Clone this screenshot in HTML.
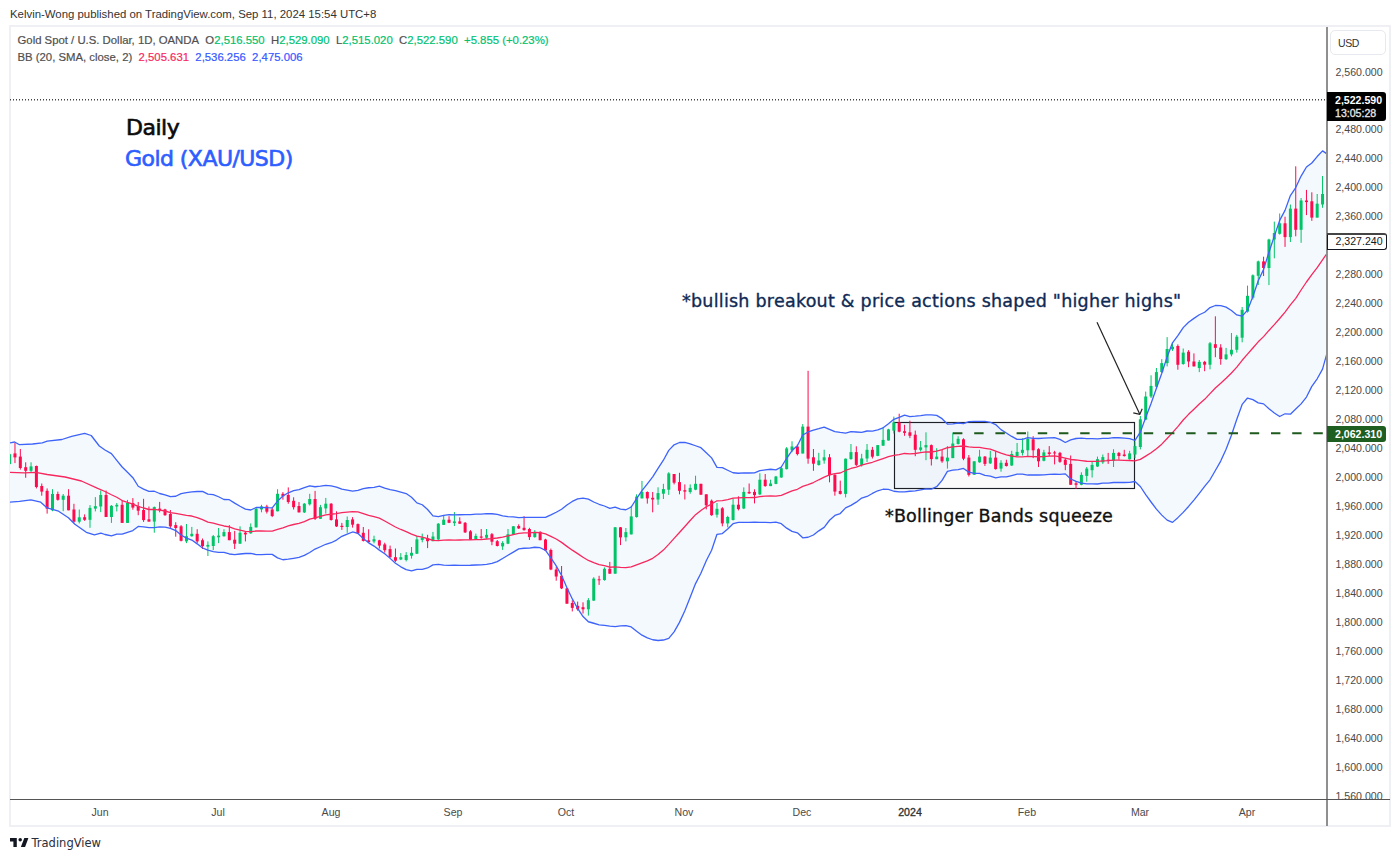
<!DOCTYPE html>
<html><head><meta charset="utf-8"><style>
*{margin:0;padding:0;box-sizing:border-box}
html,body{width:1400px;height:860px;overflow:hidden;background:#fff}
body{position:relative;font-family:"Liberation Sans",Arial,sans-serif;color:#131722}
.hdr{position:absolute;left:10px;top:8px;font-size:11.4px;color:#333;white-space:nowrap}
.frame{position:absolute;left:9px;top:25px;width:1382px;height:802px;border:2px solid #EEF0F4}
.lg{position:absolute;left:17.5px;font-size:11.35px;color:#505050;white-space:nowrap;-webkit-text-stroke:0.2px currentColor}
.lg .g{color:#00C270} .lg .r{color:#F7285E} .lg .b{color:#3558FF}
svg.chart{position:absolute;left:0;top:0}
.pl{position:absolute;left:1px;width:60px;text-align:center;font-size:10.6px;color:#4a4a4a;line-height:14px}
.tl{position:absolute;top:805px;width:60px;text-align:center;font-size:10.6px;color:#4a4a4a;line-height:14px}
.tl.b{color:#333;-webkit-text-stroke:0.35px #333}
.ann{position:absolute;white-space:nowrap;line-height:1;font-family:'DejaVu Sans',sans-serif;-webkit-text-stroke:0.35px currentColor}
.usd{position:absolute;left:1330px;top:30px;width:56px;height:25px;border:1px solid #E6E9EF;border-radius:5px;font-size:10.5px;letter-spacing:-0.4px;color:#333;padding:6px 0 0 7px}
.tag{position:absolute;left:1327px;width:59px;color:#fff;font-size:10.6px;font-weight:bold;text-align:left;padding-left:8px;border-radius:0 3px 3px 0;white-space:nowrap}
.logo{position:absolute;left:31.5px;top:836px;font-size:11.5px;font-family:'DejaVu Sans',sans-serif;color:#2a2e39}
</style></head><body>
<div class="hdr">Kelvin-Wong published on TradingView.com, Sep 11, 2024 15:54 UTC+8</div>
<div class="frame"></div>
<svg class="chart" width="1400" height="860" viewBox="0 0 1400 860">
<defs><clipPath id="cp"><rect x="10" y="27" width="1316.5" height="772"/></clipPath></defs>
<g clip-path="url(#cp)">
<polygon points="10,442.8 14.6,442 19.5,444.7 32.6,444 42.3,442.8 47.2,441.2 61.9,439.5 71.6,436.3 84.6,433.3 91.2,435.5 99.3,446 105,450 111.43,453.62 116.79,460.44 122.15,466.97 127.5,472.22 132.86,477.71 138.22,486.28 143.58,489.17 148.94,491.37 154.3,491.26 159.66,493.5 165.02,494.86 170.38,496.68 175.73,496.24 181.09,493.69 186.45,492.56 191.81,491.93 197.17,491.52 202.53,491.34 207.89,494.18 213.25,494.61 218.61,496.77 223.96,499.51 229.32,499.71 234.68,503.14 240.04,506.29 245.4,509.16 250.76,509.99 256.12,507.52 261.48,507.37 266.84,507.7 272.19,507.85 277.55,501.13 282.91,496.03 288.27,492.77 293.63,490.71 298.99,489.53 304.35,487.66 309.71,485.9 315.07,486.75 320.42,486.16 325.78,485.42 331.14,485.78 336.5,487.03 341.86,489.16 347.22,490.08 352.58,491.22 357.94,490.4 363.3,488.65 368.65,487.75 374.01,487.3 379.37,486.2 384.73,488.17 390.09,489.7 395.45,490.69 400.81,492.11 406.17,493.53 411.53,497.18 416.89,502.86 422.24,504.76 427.6,509.48 432.96,515.87 438.32,516.62 443.68,515.34 449.04,514.62 454.4,514.9 459.76,514.73 465.12,514.62 470.47,514.57 475.83,514.22 481.19,514.14 486.55,513.68 491.91,513.74 497.27,514.41 502.63,515.77 507.99,516.7 513.35,516.95 518.7,517.69 524.06,517.43 529.42,517.43 534.78,517.46 540.14,517.35 545.5,517.39 550.86,514.9 556.22,512.26 561.58,509.27 566.93,504.98 572.29,501.43 577.65,498.83 583.01,498.09 588.37,499.13 593.73,502.01 599.09,504.27 604.45,506 609.81,508.39 615.16,507.2 620.52,509.08 625.88,509.74 631.24,507.01 636.6,498.68 641.96,490.7 647.32,483.83 652.68,476.84 658.04,468.44 663.39,460.2 668.75,450.37 674.11,444.8 679.47,442.51 684.83,442.29 690.19,443.78 695.55,445.76 700.91,447.7 706.27,452.74 711.62,457.9 716.98,467.31 722.34,467.69 727.7,470.22 733.06,472.75 738.42,473.24 743.78,472.87 749.14,473 754.5,472.81 759.85,470.66 765.21,469.94 770.57,469.25 775.93,469.9 781.29,467.02 786.65,458.28 792.01,450.51 797.37,445.75 802.73,435.02 808.08,431.98 813.44,430.05 818.8,428.73 824.16,427.08 829.52,429.37 834.88,431.6 840.24,432.43 845.6,433.05 850.96,431.6 856.31,431.98 861.67,432.45 867.03,431 872.39,431.08 877.75,429.9 883.11,427.78 888.47,423.7 893.83,419.3 899.19,417.29 904.55,415.05 909.9,416.6 915.26,416.19 920.62,415.59 925.98,414.86 931.34,414.89 936.7,415.43 942.06,418.67 947.42,424.07 952.78,423.8 958.13,423 963.49,423.53 968.85,421.56 974.21,421.38 979.57,421.38 984.93,421.38 990.29,422.27 995.65,424.54 1001.01,429.65 1006.36,432.95 1011.72,436.44 1017.08,439.44 1022.44,439.44 1027.8,437.72 1033.16,438.47 1038.52,438.5 1043.88,438.19 1049.24,437.93 1054.59,437.69 1059.95,439.38 1065.31,442.47 1070.67,439.95 1076.03,438.5 1081.39,438.21 1086.75,438.64 1092.11,438.66 1097.47,438.78 1102.82,438.4 1108.18,438.32 1113.54,437.56 1118.9,437.75 1124.26,438.18 1129.62,438.65 1134.98,440.27 1140.34,432.15 1145.7,417.55 1151.05,403.53 1156.41,388.19 1161.77,373.19 1167.13,356.92 1172.49,342.85 1177.85,335.57 1183.21,327.63 1188.57,322.22 1193.93,318.38 1199.28,314.78 1204.64,312.25 1210,307.53 1215.36,305.5 1220.72,305.57 1226.08,307.16 1231.44,310.54 1236.8,314.9 1242.16,316.15 1247.51,310.18 1252.87,296.42 1258.23,280.78 1263.59,269.36 1268.95,252.22 1274.31,236.25 1279.67,220.4 1285.03,210.36 1290.39,195.55 1295.74,187.54 1301.1,176.09 1306.46,166.98 1311.82,162.96 1317.18,156.56 1322.54,150.86 1327.9,154.5 1327.9,350 1322.54,369.09 1317.18,378.78 1311.82,386.34 1306.46,397.03 1301.1,403.9 1295.74,409.04 1290.39,414.2 1285.03,413.79 1279.67,416.52 1274.31,413.03 1268.95,408.66 1263.59,403.88 1258.23,402.87 1252.87,399.68 1247.51,398.04 1242.16,404.42 1236.8,419.3 1231.44,435.33 1226.08,449.33 1220.72,461.08 1215.36,470.53 1210,479.79 1204.64,486.45 1199.28,493.37 1193.93,500.07 1188.57,506.45 1183.21,512.38 1177.85,517.66 1172.49,522.38 1167.13,520.11 1161.77,515.12 1156.41,509.15 1151.05,502 1145.7,494.63 1140.34,486.51 1134.98,481.49 1129.62,482.38 1124.26,482.49 1118.9,482.51 1113.54,482.5 1108.18,483.05 1102.82,483.17 1097.47,483.99 1092.11,483.95 1086.75,483.87 1081.39,483.1 1076.03,481.45 1070.67,479.01 1065.31,473.88 1059.95,474.36 1054.59,474.22 1049.24,474.4 1043.88,474.87 1038.52,474.98 1033.16,474.79 1027.8,475.02 1022.44,474.16 1017.08,474.16 1011.72,475.55 1006.36,476.93 1001.01,476.8 995.65,477.87 990.29,476.17 984.93,475.29 979.57,473.41 974.21,473.42 968.85,472.09 963.49,468.48 958.13,469.63 952.78,470.16 947.42,471.41 942.06,480.44 936.7,486.71 931.34,489.11 925.98,488.96 920.62,489.77 915.26,490.8 909.9,491.27 904.55,491.9 899.19,491.78 893.83,491.25 888.47,489.45 883.11,489.25 877.75,490.79 872.39,493.45 867.03,496.47 861.67,498.01 856.31,502.14 850.96,505.37 845.6,507.9 840.24,513.56 834.88,515.47 829.52,520.24 824.16,527.35 818.8,530.85 813.44,535 808.08,537.23 802.73,537.8 797.37,532.79 792.01,531.41 786.65,528.15 781.29,523.65 775.93,522.22 770.57,522.56 765.21,522.43 759.85,522.41 754.5,522.24 749.14,522.38 743.78,522.37 738.42,522.47 733.06,523.69 727.7,528.96 722.34,533.53 716.98,534.3 711.62,550.2 706.27,560.72 700.91,573.26 695.55,583.59 690.19,597.21 684.83,610.84 679.47,622.39 674.11,631.81 668.75,638.34 663.39,640.01 658.04,640.51 652.68,639.75 647.32,637.85 641.96,635.16 636.6,631.17 631.24,626.89 625.88,625.53 620.52,625.82 615.16,626.59 609.81,626.09 604.45,625.4 599.09,624.85 593.73,623.25 588.37,621.75 583.01,616.54 577.65,608.46 572.29,598.91 566.93,587.81 561.58,575.52 556.22,565.83 550.86,557.82 545.5,550.35 540.14,547.72 534.78,547.24 529.42,548.2 524.06,548.26 518.7,548.93 513.35,552.11 507.99,555.23 502.63,558.46 497.27,561.6 491.91,563.39 486.55,564.3 481.19,564.92 475.83,564.99 470.47,565.26 465.12,565.32 459.76,565.31 454.4,565.24 449.04,565.38 443.68,565.08 438.32,564.47 432.96,564.85 427.6,567.96 422.24,569.28 416.89,569.29 411.53,570.93 406.17,569.67 400.81,566.83 395.45,563.25 390.09,558.37 384.73,553.8 379.37,550.13 374.01,546.07 368.65,542.87 363.3,538.41 357.94,533.45 352.58,531.98 347.22,534.09 341.86,536.28 336.5,540.08 331.14,542.71 325.78,544.28 320.42,546.73 315.07,549.04 309.71,552.5 304.35,555.44 298.99,557.34 293.63,558.3 288.27,559.14 282.91,559.76 277.55,557.84 272.19,554.37 266.84,554.44 261.48,554.62 256.12,554.53 250.76,553.34 245.4,553.49 240.04,553.99 234.68,554.63 229.32,553.99 223.96,552.46 218.61,552.47 213.25,551.65 207.89,550.16 202.53,548.01 197.17,543.85 191.81,540.09 186.45,538.06 181.09,535.04 175.73,530.58 170.38,528.37 165.02,527.13 159.66,526.95 154.3,527.57 148.94,527.62 143.58,526.82 138.22,526.4 132.86,530.54 127.5,532.35 122.15,534.1 116.79,534.08 111.43,535.84 105,534.5 100.9,533.1 94.4,534.8 86.3,532.3 74.9,524.2 68.4,517.7 58.6,511.2 47.2,507.9 40.7,502.2 30.9,499.8 19.5,501.4 10,502.2" fill="#F4F9FE"/>
<rect x="894.5" y="422.5" width="240" height="66" fill="rgba(120,123,134,0.035)" stroke="#1d2027" stroke-width="1.15"/>
<rect x="9.11" y="453" width="1" height="12" fill="#00C466"/>
<rect x="8.11" y="454.2" width="3" height="9.8" fill="#00C466"/>
<rect x="14.47" y="442.8" width="1" height="20.3" fill="#FF0A4D"/>
<rect x="13.47" y="453.4" width="3" height="4" fill="#FF0A4D"/>
<rect x="19.83" y="449" width="1" height="20.6" fill="#FF0A4D"/>
<rect x="18.83" y="456.6" width="3" height="11.4" fill="#FF0A4D"/>
<rect x="25.19" y="462.3" width="1" height="15.5" fill="#FF0A4D"/>
<rect x="24.19" y="467.2" width="3" height="3.6" fill="#FF0A4D"/>
<rect x="30.54" y="462.3" width="1" height="10.6" fill="#00C466"/>
<rect x="29.54" y="466.4" width="3" height="4.4" fill="#00C466"/>
<rect x="35.9" y="465.6" width="1" height="22.8" fill="#FF0A4D"/>
<rect x="34.9" y="466" width="3" height="21" fill="#FF0A4D"/>
<rect x="41.26" y="483.5" width="1" height="12.2" fill="#FF0A4D"/>
<rect x="40.26" y="486" width="3" height="5.6" fill="#FF0A4D"/>
<rect x="46.62" y="488.4" width="1" height="25.2" fill="#FF0A4D"/>
<rect x="45.62" y="490.8" width="3" height="17.9" fill="#FF0A4D"/>
<rect x="51.98" y="489.2" width="1" height="22" fill="#00C466"/>
<rect x="50.98" y="494" width="3" height="16.3" fill="#00C466"/>
<rect x="57.34" y="491.6" width="1" height="9" fill="#FF0A4D"/>
<rect x="56.34" y="494" width="3" height="5.8" fill="#FF0A4D"/>
<rect x="62.7" y="494" width="1" height="17.2" fill="#00C466"/>
<rect x="61.7" y="495.7" width="3" height="4.1" fill="#00C466"/>
<rect x="68.06" y="489.2" width="1" height="21.1" fill="#FF0A4D"/>
<rect x="67.06" y="495.7" width="3" height="14.6" fill="#FF0A4D"/>
<rect x="73.42" y="503.8" width="1" height="18.8" fill="#FF0A4D"/>
<rect x="72.42" y="509.5" width="3" height="12.2" fill="#FF0A4D"/>
<rect x="78.77" y="509.5" width="1" height="13.9" fill="#00C466"/>
<rect x="77.77" y="517.3" width="3" height="4.4" fill="#00C466"/>
<rect x="84.13" y="514.4" width="1" height="6.5" fill="#FF0A4D"/>
<rect x="83.13" y="517.2" width="3" height="2.6" fill="#FF0A4D"/>
<rect x="89.49" y="505.1" width="1" height="22.7" fill="#00C466"/>
<rect x="88.49" y="507.9" width="3" height="11.9" fill="#00C466"/>
<rect x="94.85" y="497.1" width="1" height="14.3" fill="#00C466"/>
<rect x="93.85" y="506.2" width="3" height="2.4" fill="#00C466"/>
<rect x="100.21" y="490.5" width="1" height="21.6" fill="#00C466"/>
<rect x="99.21" y="495" width="3" height="11.5" fill="#00C466"/>
<rect x="105.57" y="490.5" width="1" height="26.5" fill="#FF0A4D"/>
<rect x="104.57" y="495" width="3" height="22" fill="#FF0A4D"/>
<rect x="110.93" y="505.1" width="1" height="17.8" fill="#00C466"/>
<rect x="109.93" y="505.8" width="3" height="11.2" fill="#00C466"/>
<rect x="116.29" y="503" width="1" height="8.4" fill="#00C466"/>
<rect x="115.29" y="504.8" width="3" height="1.7" fill="#00C466"/>
<rect x="121.65" y="500.2" width="1" height="22.7" fill="#FF0A4D"/>
<rect x="120.65" y="504.8" width="3" height="18.1" fill="#FF0A4D"/>
<rect x="127" y="499.9" width="1" height="23" fill="#00C466"/>
<rect x="126" y="503" width="3" height="19.9" fill="#00C466"/>
<rect x="132.36" y="498.1" width="1" height="11.6" fill="#FF0A4D"/>
<rect x="131.36" y="503" width="3" height="4.6" fill="#FF0A4D"/>
<rect x="137.72" y="502" width="1" height="13.2" fill="#FF0A4D"/>
<rect x="136.72" y="506.2" width="3" height="4.5" fill="#FF0A4D"/>
<rect x="143.08" y="498.8" width="1" height="23.1" fill="#FF0A4D"/>
<rect x="142.08" y="510" width="3" height="10.1" fill="#FF0A4D"/>
<rect x="148.44" y="506.5" width="1" height="15.1" fill="#FF0A4D"/>
<rect x="147.44" y="519.3" width="3" height="2.3" fill="#FF0A4D"/>
<rect x="153.8" y="506.5" width="1" height="26.2" fill="#00C466"/>
<rect x="152.8" y="507.1" width="3" height="14.5" fill="#00C466"/>
<rect x="159.16" y="501.9" width="1" height="10.4" fill="#FF0A4D"/>
<rect x="158.16" y="508.6" width="3" height="1.6" fill="#FF0A4D"/>
<rect x="164.52" y="508.8" width="1" height="7" fill="#FF0A4D"/>
<rect x="163.52" y="509.4" width="3" height="5.8" fill="#FF0A4D"/>
<rect x="169.88" y="510" width="1" height="18.6" fill="#FF0A4D"/>
<rect x="168.88" y="514" width="3" height="12.3" fill="#FF0A4D"/>
<rect x="175.23" y="522.2" width="1" height="14.5" fill="#FF0A4D"/>
<rect x="174.23" y="525.1" width="3" height="2.9" fill="#FF0A4D"/>
<rect x="180.59" y="525.1" width="1" height="16.3" fill="#FF0A4D"/>
<rect x="179.59" y="526.3" width="3" height="14.5" fill="#FF0A4D"/>
<rect x="185.95" y="524" width="1" height="19.1" fill="#00C466"/>
<rect x="184.95" y="536.2" width="3" height="5.2" fill="#00C466"/>
<rect x="191.31" y="526.9" width="1" height="9.8" fill="#00C466"/>
<rect x="190.31" y="533.8" width="3" height="2.4" fill="#00C466"/>
<rect x="196.67" y="529.2" width="1" height="13.9" fill="#FF0A4D"/>
<rect x="195.67" y="533.8" width="3" height="7.6" fill="#FF0A4D"/>
<rect x="202.03" y="538.5" width="1" height="10.5" fill="#FF0A4D"/>
<rect x="201.03" y="540.2" width="3" height="5.8" fill="#FF0A4D"/>
<rect x="207.39" y="541.4" width="1" height="14.6" fill="#00C466"/>
<rect x="206.39" y="544.9" width="3" height="1.7" fill="#00C466"/>
<rect x="212.75" y="535" width="1" height="15.1" fill="#00C466"/>
<rect x="211.75" y="536.2" width="3" height="9.8" fill="#00C466"/>
<rect x="218.11" y="528" width="1" height="15.1" fill="#00C466"/>
<rect x="217.11" y="535.6" width="3" height="1.7" fill="#00C466"/>
<rect x="223.46" y="529.2" width="1" height="7.5" fill="#00C466"/>
<rect x="222.46" y="532.1" width="3" height="4.1" fill="#00C466"/>
<rect x="228.82" y="525.1" width="1" height="15.1" fill="#FF0A4D"/>
<rect x="227.82" y="532.1" width="3" height="8.1" fill="#FF0A4D"/>
<rect x="234.18" y="530.9" width="1" height="18.1" fill="#FF0A4D"/>
<rect x="233.18" y="539.7" width="3" height="4" fill="#FF0A4D"/>
<rect x="239.54" y="526.3" width="1" height="17.4" fill="#00C466"/>
<rect x="238.54" y="532.7" width="3" height="11" fill="#00C466"/>
<rect x="244.9" y="531.5" width="1" height="9.9" fill="#FF0A4D"/>
<rect x="243.9" y="532.7" width="3" height="1.7" fill="#FF0A4D"/>
<rect x="250.26" y="523.4" width="1" height="10.4" fill="#00C466"/>
<rect x="249.26" y="526.9" width="3" height="6.4" fill="#00C466"/>
<rect x="255.62" y="507.7" width="1" height="19.7" fill="#00C466"/>
<rect x="254.62" y="508.8" width="3" height="18.6" fill="#00C466"/>
<rect x="260.98" y="504.8" width="1" height="7.5" fill="#00C466"/>
<rect x="259.98" y="506.5" width="3" height="2.9" fill="#00C466"/>
<rect x="266.34" y="504.8" width="1" height="8.7" fill="#FF0A4D"/>
<rect x="265.34" y="506.5" width="3" height="5.2" fill="#FF0A4D"/>
<rect x="271.69" y="507.5" width="1" height="9.6" fill="#FF0A4D"/>
<rect x="270.69" y="509.5" width="3" height="6.5" fill="#FF0A4D"/>
<rect x="277.05" y="489.2" width="1" height="22.1" fill="#00C466"/>
<rect x="276.05" y="493.8" width="3" height="17.5" fill="#00C466"/>
<rect x="282.41" y="492.1" width="1" height="7.6" fill="#FF0A4D"/>
<rect x="281.41" y="493.8" width="3" height="2.4" fill="#FF0A4D"/>
<rect x="287.77" y="487.4" width="1" height="16.3" fill="#FF0A4D"/>
<rect x="286.77" y="495" width="3" height="7" fill="#FF0A4D"/>
<rect x="293.13" y="497.3" width="1" height="12.2" fill="#FF0A4D"/>
<rect x="292.13" y="500.8" width="3" height="6.4" fill="#FF0A4D"/>
<rect x="298.49" y="502" width="1" height="10.4" fill="#FF0A4D"/>
<rect x="297.49" y="506" width="3" height="6.4" fill="#FF0A4D"/>
<rect x="303.85" y="503.1" width="1" height="9.9" fill="#00C466"/>
<rect x="302.85" y="503.7" width="3" height="8.7" fill="#00C466"/>
<rect x="309.21" y="493.8" width="1" height="11.7" fill="#00C466"/>
<rect x="308.21" y="499" width="3" height="5.3" fill="#00C466"/>
<rect x="314.57" y="490.9" width="1" height="29.1" fill="#FF0A4D"/>
<rect x="313.57" y="499" width="3" height="19.8" fill="#FF0A4D"/>
<rect x="319.92" y="504.9" width="1" height="13.9" fill="#00C466"/>
<rect x="318.92" y="507.2" width="3" height="11.6" fill="#00C466"/>
<rect x="325.28" y="497.9" width="1" height="15.7" fill="#00C466"/>
<rect x="324.28" y="503.7" width="3" height="4.7" fill="#00C466"/>
<rect x="330.64" y="503.1" width="1" height="17.5" fill="#FF0A4D"/>
<rect x="329.64" y="503.7" width="3" height="16.3" fill="#FF0A4D"/>
<rect x="336" y="511.3" width="1" height="15.7" fill="#FF0A4D"/>
<rect x="335" y="519.4" width="3" height="7" fill="#FF0A4D"/>
<rect x="341.36" y="522.9" width="1" height="7" fill="#FF0A4D"/>
<rect x="340.36" y="525.8" width="3" height="1.2" fill="#FF0A4D"/>
<rect x="346.72" y="516.5" width="1" height="16.3" fill="#00C466"/>
<rect x="345.72" y="520" width="3" height="7" fill="#00C466"/>
<rect x="352.08" y="517.1" width="1" height="10.5" fill="#FF0A4D"/>
<rect x="351.08" y="519.4" width="3" height="5.3" fill="#FF0A4D"/>
<rect x="357.44" y="523.5" width="1" height="10.5" fill="#FF0A4D"/>
<rect x="356.44" y="524.1" width="3" height="9.3" fill="#FF0A4D"/>
<rect x="362.8" y="527" width="1" height="14.5" fill="#FF0A4D"/>
<rect x="361.8" y="532.8" width="3" height="8.1" fill="#FF0A4D"/>
<rect x="368.15" y="529.3" width="1" height="13.4" fill="#FF0A4D"/>
<rect x="367.15" y="540.3" width="3" height="1.8" fill="#FF0A4D"/>
<rect x="373.51" y="535.7" width="1" height="7.6" fill="#00C466"/>
<rect x="372.51" y="539.2" width="3" height="2.3" fill="#00C466"/>
<rect x="378.87" y="539.8" width="1" height="8.7" fill="#FF0A4D"/>
<rect x="377.87" y="540.3" width="3" height="5.3" fill="#FF0A4D"/>
<rect x="384.23" y="542.7" width="1" height="9.9" fill="#FF0A4D"/>
<rect x="383.23" y="544.4" width="3" height="5.8" fill="#FF0A4D"/>
<rect x="389.59" y="545.6" width="1" height="12.2" fill="#FF0A4D"/>
<rect x="388.59" y="549.1" width="3" height="8.1" fill="#FF0A4D"/>
<rect x="394.95" y="548.5" width="1" height="13.4" fill="#FF0A4D"/>
<rect x="393.95" y="557.2" width="3" height="3.5" fill="#FF0A4D"/>
<rect x="400.31" y="553.1" width="1" height="7" fill="#00C466"/>
<rect x="399.31" y="557.2" width="3" height="2.3" fill="#00C466"/>
<rect x="405.67" y="552.1" width="1" height="9.3" fill="#00C466"/>
<rect x="404.67" y="555" width="3" height="5" fill="#00C466"/>
<rect x="411.03" y="547" width="1" height="11.6" fill="#00C466"/>
<rect x="410.03" y="552.8" width="3" height="2.9" fill="#00C466"/>
<rect x="416.39" y="535.9" width="1" height="18.1" fill="#00C466"/>
<rect x="415.39" y="539.4" width="3" height="14.3" fill="#00C466"/>
<rect x="421.74" y="533.6" width="1" height="8.7" fill="#00C466"/>
<rect x="420.74" y="537.7" width="3" height="2.3" fill="#00C466"/>
<rect x="427.1" y="534.8" width="1" height="13.3" fill="#FF0A4D"/>
<rect x="426.1" y="538.3" width="3" height="2.9" fill="#FF0A4D"/>
<rect x="432.46" y="531.9" width="1" height="9.3" fill="#00C466"/>
<rect x="431.46" y="536.5" width="3" height="4.7" fill="#00C466"/>
<rect x="437.82" y="523.1" width="1" height="17.5" fill="#00C466"/>
<rect x="436.82" y="523.7" width="3" height="15.7" fill="#00C466"/>
<rect x="443.18" y="515" width="1" height="9.9" fill="#00C466"/>
<rect x="442.18" y="519.7" width="3" height="5.2" fill="#00C466"/>
<rect x="448.54" y="516.2" width="1" height="6.9" fill="#FF0A4D"/>
<rect x="447.54" y="519.7" width="3" height="3.1" fill="#FF0A4D"/>
<rect x="453.9" y="512.1" width="1" height="13.9" fill="#00C466"/>
<rect x="452.9" y="521.4" width="3" height="1.7" fill="#00C466"/>
<rect x="459.26" y="517.3" width="1" height="6.4" fill="#FF0A4D"/>
<rect x="458.26" y="521.4" width="3" height="2.3" fill="#FF0A4D"/>
<rect x="464.62" y="522" width="1" height="11" fill="#FF0A4D"/>
<rect x="463.62" y="522.8" width="3" height="9.6" fill="#FF0A4D"/>
<rect x="469.97" y="530.1" width="1" height="9.9" fill="#FF0A4D"/>
<rect x="468.97" y="531.3" width="3" height="8.5" fill="#FF0A4D"/>
<rect x="475.33" y="533.6" width="1" height="5.8" fill="#00C466"/>
<rect x="474.33" y="535.9" width="3" height="3.1" fill="#00C466"/>
<rect x="480.69" y="529" width="1" height="9.8" fill="#FF0A4D"/>
<rect x="479.69" y="536.5" width="3" height="1.2" fill="#FF0A4D"/>
<rect x="486.05" y="529" width="1" height="9.8" fill="#00C466"/>
<rect x="485.05" y="534.8" width="3" height="2.9" fill="#00C466"/>
<rect x="491.41" y="533" width="1" height="12.2" fill="#FF0A4D"/>
<rect x="490.41" y="534.2" width="3" height="7.5" fill="#FF0A4D"/>
<rect x="496.77" y="540" width="1" height="6.4" fill="#FF0A4D"/>
<rect x="495.77" y="541.2" width="3" height="4.8" fill="#FF0A4D"/>
<rect x="502.13" y="541.2" width="1" height="8.7" fill="#00C466"/>
<rect x="501.13" y="542.9" width="3" height="3.5" fill="#00C466"/>
<rect x="507.49" y="529" width="1" height="15.1" fill="#00C466"/>
<rect x="506.49" y="534.2" width="3" height="9.5" fill="#00C466"/>
<rect x="512.85" y="526" width="1" height="8.8" fill="#00C466"/>
<rect x="511.85" y="526.3" width="3" height="8.1" fill="#00C466"/>
<rect x="518.2" y="524.3" width="1" height="4.7" fill="#FF0A4D"/>
<rect x="517.2" y="526" width="3" height="2.4" fill="#FF0A4D"/>
<rect x="523.56" y="516.2" width="1" height="14.5" fill="#FF0A4D"/>
<rect x="522.56" y="527.8" width="3" height="2.3" fill="#FF0A4D"/>
<rect x="528.92" y="527.8" width="1" height="12.2" fill="#FF0A4D"/>
<rect x="527.92" y="529" width="3" height="8.1" fill="#FF0A4D"/>
<rect x="534.28" y="530.1" width="1" height="7.6" fill="#00C466"/>
<rect x="533.28" y="531.9" width="3" height="5.2" fill="#00C466"/>
<rect x="539.64" y="531.2" width="1" height="9" fill="#FF0A4D"/>
<rect x="538.64" y="531.9" width="3" height="8.3" fill="#FF0A4D"/>
<rect x="545" y="538.8" width="1" height="11.9" fill="#FF0A4D"/>
<rect x="544" y="539.5" width="3" height="10.9" fill="#FF0A4D"/>
<rect x="550.36" y="548.6" width="1" height="21.6" fill="#FF0A4D"/>
<rect x="549.36" y="550" width="3" height="19.5" fill="#FF0A4D"/>
<rect x="555.72" y="566.7" width="1" height="14" fill="#FF0A4D"/>
<rect x="554.72" y="569.5" width="3" height="7" fill="#FF0A4D"/>
<rect x="561.08" y="566" width="1" height="23.1" fill="#FF0A4D"/>
<rect x="560.08" y="575.8" width="3" height="12.6" fill="#FF0A4D"/>
<rect x="566.43" y="587.7" width="1" height="16" fill="#FF0A4D"/>
<rect x="565.43" y="588.4" width="3" height="15.3" fill="#FF0A4D"/>
<rect x="571.79" y="600.2" width="1" height="11.2" fill="#FF0A4D"/>
<rect x="570.79" y="603" width="3" height="4.9" fill="#FF0A4D"/>
<rect x="577.15" y="601.6" width="1" height="9.1" fill="#FF0A4D"/>
<rect x="576.15" y="605.8" width="3" height="3.5" fill="#FF0A4D"/>
<rect x="582.51" y="602.3" width="1" height="11.2" fill="#FF0A4D"/>
<rect x="581.51" y="607.2" width="3" height="2.1" fill="#FF0A4D"/>
<rect x="587.87" y="598.1" width="1" height="17.5" fill="#00C466"/>
<rect x="586.87" y="600.2" width="3" height="9.1" fill="#00C466"/>
<rect x="593.23" y="577.2" width="1" height="23.7" fill="#00C466"/>
<rect x="592.23" y="578.6" width="3" height="22" fill="#00C466"/>
<rect x="598.59" y="575.8" width="1" height="9.1" fill="#FF0A4D"/>
<rect x="597.59" y="579.3" width="3" height="1" fill="#FF0A4D"/>
<rect x="603.95" y="567.4" width="1" height="13.3" fill="#00C466"/>
<rect x="602.95" y="568.8" width="3" height="11.2" fill="#00C466"/>
<rect x="609.31" y="561.9" width="1" height="11.8" fill="#FF0A4D"/>
<rect x="608.31" y="568.8" width="3" height="4.9" fill="#FF0A4D"/>
<rect x="614.66" y="527" width="1" height="46.7" fill="#00C466"/>
<rect x="613.66" y="527.3" width="3" height="46.4" fill="#00C466"/>
<rect x="620.02" y="527" width="1" height="18.1" fill="#FF0A4D"/>
<rect x="619.02" y="527.3" width="3" height="10.1" fill="#FF0A4D"/>
<rect x="625.38" y="528" width="1" height="13.4" fill="#00C466"/>
<rect x="624.38" y="532.1" width="3" height="5.2" fill="#00C466"/>
<rect x="630.74" y="505.9" width="1" height="28.5" fill="#00C466"/>
<rect x="629.74" y="516.4" width="3" height="18" fill="#00C466"/>
<rect x="636.1" y="494.3" width="1" height="23.3" fill="#00C466"/>
<rect x="635.1" y="496.6" width="3" height="20.4" fill="#00C466"/>
<rect x="641.46" y="480.9" width="1" height="17.5" fill="#00C466"/>
<rect x="640.46" y="492" width="3" height="6.4" fill="#00C466"/>
<rect x="646.82" y="491.4" width="1" height="12.2" fill="#FF0A4D"/>
<rect x="645.82" y="492" width="3" height="6.4" fill="#FF0A4D"/>
<rect x="652.18" y="492" width="1" height="20.3" fill="#FF0A4D"/>
<rect x="651.18" y="497.8" width="3" height="1.7" fill="#FF0A4D"/>
<rect x="657.54" y="487.3" width="1" height="17.5" fill="#00C466"/>
<rect x="656.54" y="493.1" width="3" height="6.4" fill="#00C466"/>
<rect x="662.89" y="483.8" width="1" height="15.2" fill="#00C466"/>
<rect x="661.89" y="489.1" width="3" height="4.6" fill="#00C466"/>
<rect x="668.25" y="472.2" width="1" height="22.7" fill="#00C466"/>
<rect x="667.25" y="473.4" width="3" height="16.3" fill="#00C466"/>
<rect x="673.61" y="474" width="1" height="10.4" fill="#FF0A4D"/>
<rect x="672.61" y="474" width="3" height="8.7" fill="#FF0A4D"/>
<rect x="678.97" y="472.8" width="1" height="21.5" fill="#FF0A4D"/>
<rect x="677.97" y="482.1" width="3" height="8.7" fill="#FF0A4D"/>
<rect x="684.33" y="484.4" width="1" height="15.1" fill="#FF0A4D"/>
<rect x="683.33" y="490.2" width="3" height="1.4" fill="#FF0A4D"/>
<rect x="689.69" y="484.4" width="1" height="9.3" fill="#00C466"/>
<rect x="688.69" y="487.9" width="3" height="4.1" fill="#00C466"/>
<rect x="695.05" y="475.7" width="1" height="14.5" fill="#00C466"/>
<rect x="694.05" y="483.8" width="3" height="5.9" fill="#00C466"/>
<rect x="700.41" y="483.8" width="1" height="11.1" fill="#FF0A4D"/>
<rect x="699.41" y="483.8" width="3" height="10.9" fill="#FF0A4D"/>
<rect x="705.77" y="494.3" width="1" height="15.1" fill="#FF0A4D"/>
<rect x="704.77" y="494.3" width="3" height="11" fill="#FF0A4D"/>
<rect x="711.12" y="499.5" width="1" height="16.3" fill="#FF0A4D"/>
<rect x="710.12" y="500.7" width="3" height="14.5" fill="#FF0A4D"/>
<rect x="716.48" y="503" width="1" height="14.6" fill="#00C466"/>
<rect x="715.48" y="508.8" width="3" height="5.9" fill="#00C466"/>
<rect x="721.84" y="507.1" width="1" height="19.2" fill="#FF0A4D"/>
<rect x="720.84" y="508.3" width="3" height="15.1" fill="#FF0A4D"/>
<rect x="727.2" y="515.8" width="1" height="11.6" fill="#00C466"/>
<rect x="726.2" y="517" width="3" height="6.4" fill="#00C466"/>
<rect x="732.56" y="498.3" width="1" height="22.2" fill="#00C466"/>
<rect x="731.56" y="504.7" width="3" height="15.3" fill="#00C466"/>
<rect x="737.92" y="496.3" width="1" height="14.1" fill="#FF0A4D"/>
<rect x="736.92" y="504.7" width="3" height="4.4" fill="#FF0A4D"/>
<rect x="743.28" y="487.4" width="1" height="21.7" fill="#00C466"/>
<rect x="742.28" y="491.9" width="3" height="16.6" fill="#00C466"/>
<rect x="748.64" y="483.5" width="1" height="10.3" fill="#FF0A4D"/>
<rect x="747.64" y="491.9" width="3" height="1.5" fill="#FF0A4D"/>
<rect x="754" y="489.3" width="1" height="14.1" fill="#FF0A4D"/>
<rect x="753" y="491.9" width="3" height="3.2" fill="#FF0A4D"/>
<rect x="759.35" y="473.3" width="1" height="21.8" fill="#00C466"/>
<rect x="758.35" y="479.7" width="3" height="14.7" fill="#00C466"/>
<rect x="764.71" y="474" width="1" height="12.7" fill="#FF0A4D"/>
<rect x="763.71" y="479.7" width="3" height="6.4" fill="#FF0A4D"/>
<rect x="770.07" y="479.7" width="1" height="6.4" fill="#00C466"/>
<rect x="769.07" y="483.5" width="3" height="2.6" fill="#00C466"/>
<rect x="775.43" y="475.9" width="1" height="8.3" fill="#00C466"/>
<rect x="774.43" y="476.5" width="3" height="7.4" fill="#00C466"/>
<rect x="780.79" y="466.9" width="1" height="10.9" fill="#00C466"/>
<rect x="779.79" y="468.2" width="3" height="9.3" fill="#00C466"/>
<rect x="786.15" y="447.1" width="1" height="22.4" fill="#00C466"/>
<rect x="785.15" y="448.4" width="3" height="20.7" fill="#00C466"/>
<rect x="791.51" y="441.3" width="1" height="10.9" fill="#00C466"/>
<rect x="790.51" y="446.5" width="3" height="3.8" fill="#00C466"/>
<rect x="796.87" y="444.5" width="1" height="10.9" fill="#FF0A4D"/>
<rect x="795.87" y="446.5" width="3" height="7.6" fill="#FF0A4D"/>
<rect x="802.23" y="424.1" width="1" height="29.4" fill="#00C466"/>
<rect x="801.23" y="426.6" width="3" height="26.9" fill="#00C466"/>
<rect x="807.58" y="370.8" width="1" height="92.9" fill="#FF0A4D"/>
<rect x="806.58" y="426.6" width="3" height="32" fill="#FF0A4D"/>
<rect x="812.94" y="449" width="1" height="21.8" fill="#FF0A4D"/>
<rect x="811.94" y="457.3" width="3" height="6.4" fill="#FF0A4D"/>
<rect x="818.3" y="452.8" width="1" height="12.8" fill="#00C466"/>
<rect x="817.3" y="460.5" width="3" height="4.5" fill="#00C466"/>
<rect x="823.66" y="449.7" width="1" height="14" fill="#00C466"/>
<rect x="822.66" y="457.3" width="3" height="3.2" fill="#00C466"/>
<rect x="829.02" y="454.1" width="1" height="28.2" fill="#FF0A4D"/>
<rect x="828.02" y="457.3" width="3" height="17.9" fill="#FF0A4D"/>
<rect x="834.38" y="474.2" width="1" height="21.5" fill="#FF0A4D"/>
<rect x="833.38" y="474.8" width="3" height="16.8" fill="#FF0A4D"/>
<rect x="839.74" y="480.6" width="1" height="13.9" fill="#FF0A4D"/>
<rect x="838.74" y="491" width="3" height="2.9" fill="#FF0A4D"/>
<rect x="845.1" y="458.5" width="1" height="38.9" fill="#00C466"/>
<rect x="844.1" y="458.7" width="3" height="35.2" fill="#00C466"/>
<rect x="850.46" y="444" width="1" height="15.7" fill="#00C466"/>
<rect x="849.46" y="452.1" width="3" height="7" fill="#00C466"/>
<rect x="855.81" y="446.3" width="1" height="19.7" fill="#FF0A4D"/>
<rect x="854.81" y="452.1" width="3" height="12.8" fill="#FF0A4D"/>
<rect x="861.17" y="453.8" width="1" height="12.8" fill="#00C466"/>
<rect x="860.17" y="458.5" width="3" height="6.4" fill="#00C466"/>
<rect x="866.53" y="444" width="1" height="18" fill="#00C466"/>
<rect x="865.53" y="449.8" width="3" height="8.7" fill="#00C466"/>
<rect x="871.89" y="446.9" width="1" height="11.6" fill="#FF0A4D"/>
<rect x="870.89" y="449.8" width="3" height="6.9" fill="#FF0A4D"/>
<rect x="877.25" y="445.1" width="1" height="11.1" fill="#00C466"/>
<rect x="876.25" y="445.1" width="3" height="10.8" fill="#00C466"/>
<rect x="882.61" y="427.1" width="1" height="18.6" fill="#00C466"/>
<rect x="881.61" y="439.9" width="3" height="5.8" fill="#00C466"/>
<rect x="887.97" y="428.8" width="1" height="11.7" fill="#00C466"/>
<rect x="886.97" y="429.4" width="3" height="11.1" fill="#00C466"/>
<rect x="893.33" y="416.6" width="1" height="16.9" fill="#00C466"/>
<rect x="892.33" y="422.4" width="3" height="8.2" fill="#00C466"/>
<rect x="898.69" y="413.7" width="1" height="18.6" fill="#FF0A4D"/>
<rect x="897.69" y="422.4" width="3" height="9.3" fill="#FF0A4D"/>
<rect x="904.05" y="424.8" width="1" height="11" fill="#FF0A4D"/>
<rect x="903.05" y="431.2" width="3" height="1.7" fill="#FF0A4D"/>
<rect x="909.4" y="420.7" width="1" height="17.4" fill="#FF0A4D"/>
<rect x="908.4" y="432.3" width="3" height="3.5" fill="#FF0A4D"/>
<rect x="914.76" y="430.6" width="1" height="25.6" fill="#FF0A4D"/>
<rect x="913.76" y="434.7" width="3" height="15.1" fill="#FF0A4D"/>
<rect x="920.12" y="441" width="1" height="10.5" fill="#00C466"/>
<rect x="919.12" y="447.4" width="3" height="2.4" fill="#00C466"/>
<rect x="925.48" y="432.3" width="1" height="27.9" fill="#00C466"/>
<rect x="924.48" y="445.1" width="3" height="2.3" fill="#00C466"/>
<rect x="930.84" y="444.5" width="1" height="21" fill="#FF0A4D"/>
<rect x="929.84" y="445.1" width="3" height="14" fill="#FF0A4D"/>
<rect x="936.2" y="448.2" width="1" height="11" fill="#00C466"/>
<rect x="935.2" y="456.6" width="3" height="2.6" fill="#00C466"/>
<rect x="941.56" y="449.8" width="1" height="13" fill="#FF0A4D"/>
<rect x="940.56" y="456.6" width="3" height="4.7" fill="#FF0A4D"/>
<rect x="946.92" y="446.1" width="1" height="22.5" fill="#00C466"/>
<rect x="945.92" y="457.6" width="3" height="3.7" fill="#00C466"/>
<rect x="952.28" y="432.5" width="1" height="25.6" fill="#00C466"/>
<rect x="951.28" y="443.5" width="3" height="14.6" fill="#00C466"/>
<rect x="957.63" y="436.2" width="1" height="8.3" fill="#00C466"/>
<rect x="956.63" y="438.8" width="3" height="5.2" fill="#00C466"/>
<rect x="962.99" y="438.3" width="1" height="21.9" fill="#FF0A4D"/>
<rect x="961.99" y="439.3" width="3" height="19.4" fill="#FF0A4D"/>
<rect x="968.35" y="455" width="1" height="21.5" fill="#FF0A4D"/>
<rect x="967.35" y="457.6" width="3" height="17.3" fill="#FF0A4D"/>
<rect x="973.71" y="461.3" width="1" height="13.6" fill="#00C466"/>
<rect x="972.71" y="461.3" width="3" height="13.4" fill="#00C466"/>
<rect x="979.07" y="449.8" width="1" height="13" fill="#00C466"/>
<rect x="978.07" y="456.6" width="3" height="5.7" fill="#00C466"/>
<rect x="984.43" y="456" width="1" height="10" fill="#FF0A4D"/>
<rect x="983.43" y="456.6" width="3" height="7.3" fill="#FF0A4D"/>
<rect x="989.79" y="450.8" width="1" height="13.1" fill="#00C466"/>
<rect x="988.79" y="457.6" width="3" height="5.8" fill="#00C466"/>
<rect x="995.15" y="451.3" width="1" height="18.3" fill="#FF0A4D"/>
<rect x="994.15" y="457.6" width="3" height="11.5" fill="#FF0A4D"/>
<rect x="1000.51" y="460.2" width="1" height="11.5" fill="#00C466"/>
<rect x="999.51" y="462.8" width="3" height="5.8" fill="#00C466"/>
<rect x="1005.86" y="459.7" width="1" height="6.8" fill="#FF0A4D"/>
<rect x="1004.86" y="462.8" width="3" height="3.2" fill="#FF0A4D"/>
<rect x="1011.22" y="450.8" width="1" height="15.2" fill="#00C466"/>
<rect x="1010.22" y="454" width="3" height="11.5" fill="#00C466"/>
<rect x="1016.58" y="443" width="1" height="13.6" fill="#00C466"/>
<rect x="1015.58" y="451.9" width="3" height="4.1" fill="#00C466"/>
<rect x="1021.94" y="438.3" width="1" height="17.2" fill="#00C466"/>
<rect x="1020.94" y="449.8" width="3" height="3.1" fill="#00C466"/>
<rect x="1027.3" y="431.5" width="1" height="24.5" fill="#00C466"/>
<rect x="1026.3" y="438.8" width="3" height="11.5" fill="#00C466"/>
<rect x="1032.66" y="436.2" width="1" height="21.9" fill="#FF0A4D"/>
<rect x="1031.66" y="439.3" width="3" height="11" fill="#FF0A4D"/>
<rect x="1038.02" y="448.2" width="1" height="18.8" fill="#FF0A4D"/>
<rect x="1037.02" y="449.2" width="3" height="12.1" fill="#FF0A4D"/>
<rect x="1043.38" y="449.8" width="1" height="11.5" fill="#00C466"/>
<rect x="1042.38" y="452.4" width="3" height="8.4" fill="#00C466"/>
<rect x="1048.74" y="446.1" width="1" height="9.9" fill="#FF0A4D"/>
<rect x="1047.74" y="452.4" width="3" height="1.6" fill="#FF0A4D"/>
<rect x="1054.09" y="450.8" width="1" height="13.6" fill="#FF0A4D"/>
<rect x="1053.09" y="452.4" width="3" height="1" fill="#FF0A4D"/>
<rect x="1059.45" y="451.9" width="1" height="10.9" fill="#FF0A4D"/>
<rect x="1058.45" y="452.9" width="3" height="8.9" fill="#FF0A4D"/>
<rect x="1064.81" y="458.1" width="1" height="12.1" fill="#FF0A4D"/>
<rect x="1063.81" y="459.7" width="3" height="5.2" fill="#FF0A4D"/>
<rect x="1070.17" y="455.5" width="1" height="29.3" fill="#FF0A4D"/>
<rect x="1069.17" y="463.9" width="3" height="20.9" fill="#FF0A4D"/>
<rect x="1075.53" y="481.7" width="1" height="7.3" fill="#FF0A4D"/>
<rect x="1074.53" y="483.3" width="3" height="1.5" fill="#FF0A4D"/>
<rect x="1080.89" y="472.3" width="1" height="13" fill="#00C466"/>
<rect x="1079.89" y="474.9" width="3" height="9.9" fill="#00C466"/>
<rect x="1086.25" y="467" width="1" height="14.7" fill="#00C466"/>
<rect x="1085.25" y="468.6" width="3" height="7.3" fill="#00C466"/>
<rect x="1091.61" y="461.3" width="1" height="16.2" fill="#00C466"/>
<rect x="1090.61" y="464.9" width="3" height="5.3" fill="#00C466"/>
<rect x="1096.97" y="456.6" width="1" height="10.4" fill="#00C466"/>
<rect x="1095.97" y="459.2" width="3" height="7.3" fill="#00C466"/>
<rect x="1102.32" y="454.5" width="1" height="9.4" fill="#00C466"/>
<rect x="1101.32" y="457.1" width="3" height="5.2" fill="#00C466"/>
<rect x="1107.68" y="452.9" width="1" height="11" fill="#FF0A4D"/>
<rect x="1106.68" y="459.7" width="3" height="1.1" fill="#FF0A4D"/>
<rect x="1113.04" y="449.2" width="1" height="17.8" fill="#00C466"/>
<rect x="1112.04" y="452.9" width="3" height="7.9" fill="#00C466"/>
<rect x="1118.4" y="451.9" width="1" height="7.8" fill="#FF0A4D"/>
<rect x="1117.4" y="452.9" width="3" height="3.1" fill="#FF0A4D"/>
<rect x="1123.76" y="449.8" width="1" height="6.8" fill="#FF0A4D"/>
<rect x="1122.76" y="454.5" width="3" height="1.5" fill="#FF0A4D"/>
<rect x="1129.12" y="450.8" width="1" height="8.9" fill="#00C466"/>
<rect x="1128.12" y="453.4" width="3" height="5.8" fill="#00C466"/>
<rect x="1134.48" y="441.4" width="1" height="16.7" fill="#00C466"/>
<rect x="1133.48" y="446.1" width="3" height="8.4" fill="#00C466"/>
<rect x="1139.84" y="416" width="1" height="33.4" fill="#00C466"/>
<rect x="1138.84" y="419.3" width="3" height="27.7" fill="#00C466"/>
<rect x="1145.2" y="391.6" width="1" height="28.5" fill="#00C466"/>
<rect x="1144.2" y="396.5" width="3" height="23.1" fill="#00C466"/>
<rect x="1150.55" y="375.3" width="1" height="22.8" fill="#00C466"/>
<rect x="1149.55" y="385.9" width="3" height="10.6" fill="#00C466"/>
<rect x="1155.91" y="368" width="1" height="20.4" fill="#00C466"/>
<rect x="1154.91" y="372.1" width="3" height="14.6" fill="#00C466"/>
<rect x="1161.27" y="359.1" width="1" height="13.8" fill="#00C466"/>
<rect x="1160.27" y="363.1" width="3" height="9" fill="#00C466"/>
<rect x="1166.63" y="337.1" width="1" height="29.3" fill="#00C466"/>
<rect x="1165.63" y="349" width="3" height="14.1" fill="#00C466"/>
<rect x="1171.99" y="342" width="1" height="8.9" fill="#00C466"/>
<rect x="1170.99" y="346.9" width="3" height="2.4" fill="#00C466"/>
<rect x="1177.35" y="344.4" width="1" height="25.3" fill="#FF0A4D"/>
<rect x="1176.35" y="346" width="3" height="18.8" fill="#FF0A4D"/>
<rect x="1182.71" y="348.5" width="1" height="16.3" fill="#00C466"/>
<rect x="1181.71" y="352.6" width="3" height="11.4" fill="#00C466"/>
<rect x="1188.07" y="350.1" width="1" height="17.1" fill="#FF0A4D"/>
<rect x="1187.07" y="351.7" width="3" height="9.8" fill="#FF0A4D"/>
<rect x="1193.43" y="353.4" width="1" height="13" fill="#FF0A4D"/>
<rect x="1192.43" y="361.5" width="3" height="4.9" fill="#FF0A4D"/>
<rect x="1198.78" y="360" width="1" height="12.1" fill="#00C466"/>
<rect x="1197.78" y="361.9" width="3" height="6.1" fill="#00C466"/>
<rect x="1204.14" y="360.9" width="1" height="10.3" fill="#FF0A4D"/>
<rect x="1203.14" y="361.9" width="3" height="2.8" fill="#FF0A4D"/>
<rect x="1209.5" y="342" width="1" height="27.3" fill="#00C466"/>
<rect x="1208.5" y="343.3" width="3" height="21.4" fill="#00C466"/>
<rect x="1214.86" y="316.3" width="1" height="40.9" fill="#FF0A4D"/>
<rect x="1213.86" y="344.2" width="3" height="3.7" fill="#FF0A4D"/>
<rect x="1220.22" y="344.2" width="1" height="20.5" fill="#FF0A4D"/>
<rect x="1219.22" y="347.5" width="3" height="11.6" fill="#FF0A4D"/>
<rect x="1225.58" y="347.9" width="1" height="12.1" fill="#00C466"/>
<rect x="1224.58" y="354.4" width="3" height="4.7" fill="#00C466"/>
<rect x="1230.94" y="333" width="1" height="23.3" fill="#00C466"/>
<rect x="1229.94" y="349.8" width="3" height="4.6" fill="#00C466"/>
<rect x="1236.3" y="334.9" width="1" height="17.7" fill="#00C466"/>
<rect x="1235.3" y="336.7" width="3" height="13.1" fill="#00C466"/>
<rect x="1241.66" y="307" width="1" height="35.3" fill="#00C466"/>
<rect x="1240.66" y="309.8" width="3" height="27.9" fill="#00C466"/>
<rect x="1247.01" y="285.6" width="1" height="27" fill="#00C466"/>
<rect x="1246.01" y="295.8" width="3" height="15.8" fill="#00C466"/>
<rect x="1252.37" y="274.4" width="1" height="25.1" fill="#00C466"/>
<rect x="1251.37" y="275.3" width="3" height="22.4" fill="#00C466"/>
<rect x="1257.73" y="260.6" width="1" height="24.4" fill="#00C466"/>
<rect x="1256.73" y="261.4" width="3" height="14.4" fill="#00C466"/>
<rect x="1263.09" y="256.7" width="1" height="19.3" fill="#FF0A4D"/>
<rect x="1262.09" y="261.4" width="3" height="6.6" fill="#FF0A4D"/>
<rect x="1268.45" y="238.7" width="1" height="46.4" fill="#00C466"/>
<rect x="1267.45" y="239.5" width="3" height="28.5" fill="#00C466"/>
<rect x="1273.81" y="221.6" width="1" height="36.7" fill="#00C466"/>
<rect x="1272.81" y="233" width="3" height="6.5" fill="#00C466"/>
<rect x="1279.17" y="213.5" width="1" height="21.1" fill="#00C466"/>
<rect x="1278.17" y="223.3" width="3" height="10.5" fill="#00C466"/>
<rect x="1284.53" y="216.7" width="1" height="30.2" fill="#FF0A4D"/>
<rect x="1283.53" y="223.3" width="3" height="13.8" fill="#FF0A4D"/>
<rect x="1289.89" y="204.5" width="1" height="37.5" fill="#00C466"/>
<rect x="1288.89" y="208.6" width="3" height="28.5" fill="#00C466"/>
<rect x="1295.24" y="166.3" width="1" height="70" fill="#FF0A4D"/>
<rect x="1294.24" y="208.6" width="3" height="21.2" fill="#FF0A4D"/>
<rect x="1300.6" y="198" width="1" height="44.8" fill="#00C466"/>
<rect x="1299.6" y="200.5" width="3" height="29.3" fill="#00C466"/>
<rect x="1305.96" y="189.9" width="1" height="25.2" fill="#FF0A4D"/>
<rect x="1304.96" y="200.5" width="3" height="1.6" fill="#FF0A4D"/>
<rect x="1311.32" y="192.3" width="1" height="28.5" fill="#FF0A4D"/>
<rect x="1310.32" y="201.3" width="3" height="16.3" fill="#FF0A4D"/>
<rect x="1316.68" y="194" width="1" height="23.6" fill="#00C466"/>
<rect x="1315.68" y="203.7" width="3" height="13.9" fill="#00C466"/>
<rect x="1322.04" y="176" width="1" height="31.8" fill="#00C466"/>
<rect x="1321.04" y="194" width="3" height="10.5" fill="#00C466"/>
<polyline points="10,442.8 14.6,442 19.5,444.7 32.6,444 42.3,442.8 47.2,441.2 61.9,439.5 71.6,436.3 84.6,433.3 91.2,435.5 99.3,446 105,450 111.43,453.62 116.79,460.44 122.15,466.97 127.5,472.22 132.86,477.71 138.22,486.28 143.58,489.17 148.94,491.37 154.3,491.26 159.66,493.5 165.02,494.86 170.38,496.68 175.73,496.24 181.09,493.69 186.45,492.56 191.81,491.93 197.17,491.52 202.53,491.34 207.89,494.18 213.25,494.61 218.61,496.77 223.96,499.51 229.32,499.71 234.68,503.14 240.04,506.29 245.4,509.16 250.76,509.99 256.12,507.52 261.48,507.37 266.84,507.7 272.19,507.85 277.55,501.13 282.91,496.03 288.27,492.77 293.63,490.71 298.99,489.53 304.35,487.66 309.71,485.9 315.07,486.75 320.42,486.16 325.78,485.42 331.14,485.78 336.5,487.03 341.86,489.16 347.22,490.08 352.58,491.22 357.94,490.4 363.3,488.65 368.65,487.75 374.01,487.3 379.37,486.2 384.73,488.17 390.09,489.7 395.45,490.69 400.81,492.11 406.17,493.53 411.53,497.18 416.89,502.86 422.24,504.76 427.6,509.48 432.96,515.87 438.32,516.62 443.68,515.34 449.04,514.62 454.4,514.9 459.76,514.73 465.12,514.62 470.47,514.57 475.83,514.22 481.19,514.14 486.55,513.68 491.91,513.74 497.27,514.41 502.63,515.77 507.99,516.7 513.35,516.95 518.7,517.69 524.06,517.43 529.42,517.43 534.78,517.46 540.14,517.35 545.5,517.39 550.86,514.9 556.22,512.26 561.58,509.27 566.93,504.98 572.29,501.43 577.65,498.83 583.01,498.09 588.37,499.13 593.73,502.01 599.09,504.27 604.45,506 609.81,508.39 615.16,507.2 620.52,509.08 625.88,509.74 631.24,507.01 636.6,498.68 641.96,490.7 647.32,483.83 652.68,476.84 658.04,468.44 663.39,460.2 668.75,450.37 674.11,444.8 679.47,442.51 684.83,442.29 690.19,443.78 695.55,445.76 700.91,447.7 706.27,452.74 711.62,457.9 716.98,467.31 722.34,467.69 727.7,470.22 733.06,472.75 738.42,473.24 743.78,472.87 749.14,473 754.5,472.81 759.85,470.66 765.21,469.94 770.57,469.25 775.93,469.9 781.29,467.02 786.65,458.28 792.01,450.51 797.37,445.75 802.73,435.02 808.08,431.98 813.44,430.05 818.8,428.73 824.16,427.08 829.52,429.37 834.88,431.6 840.24,432.43 845.6,433.05 850.96,431.6 856.31,431.98 861.67,432.45 867.03,431 872.39,431.08 877.75,429.9 883.11,427.78 888.47,423.7 893.83,419.3 899.19,417.29 904.55,415.05 909.9,416.6 915.26,416.19 920.62,415.59 925.98,414.86 931.34,414.89 936.7,415.43 942.06,418.67 947.42,424.07 952.78,423.8 958.13,423 963.49,423.53 968.85,421.56 974.21,421.38 979.57,421.38 984.93,421.38 990.29,422.27 995.65,424.54 1001.01,429.65 1006.36,432.95 1011.72,436.44 1017.08,439.44 1022.44,439.44 1027.8,437.72 1033.16,438.47 1038.52,438.5 1043.88,438.19 1049.24,437.93 1054.59,437.69 1059.95,439.38 1065.31,442.47 1070.67,439.95 1076.03,438.5 1081.39,438.21 1086.75,438.64 1092.11,438.66 1097.47,438.78 1102.82,438.4 1108.18,438.32 1113.54,437.56 1118.9,437.75 1124.26,438.18 1129.62,438.65 1134.98,440.27 1140.34,432.15 1145.7,417.55 1151.05,403.53 1156.41,388.19 1161.77,373.19 1167.13,356.92 1172.49,342.85 1177.85,335.57 1183.21,327.63 1188.57,322.22 1193.93,318.38 1199.28,314.78 1204.64,312.25 1210,307.53 1215.36,305.5 1220.72,305.57 1226.08,307.16 1231.44,310.54 1236.8,314.9 1242.16,316.15 1247.51,310.18 1252.87,296.42 1258.23,280.78 1263.59,269.36 1268.95,252.22 1274.31,236.25 1279.67,220.4 1285.03,210.36 1290.39,195.55 1295.74,187.54 1301.1,176.09 1306.46,166.98 1311.82,162.96 1317.18,156.56 1322.54,150.86 1327.9,154.5" fill="none" stroke="#3D63FA" stroke-width="1.3" stroke-linejoin="round"/>
<polyline points="10,502.2 19.5,501.4 30.9,499.8 40.7,502.2 47.2,507.9 58.6,511.2 68.4,517.7 74.9,524.2 86.3,532.3 94.4,534.8 100.9,533.1 105,534.5 111.43,535.84 116.79,534.08 122.15,534.1 127.5,532.35 132.86,530.54 138.22,526.4 143.58,526.82 148.94,527.62 154.3,527.57 159.66,526.95 165.02,527.13 170.38,528.37 175.73,530.58 181.09,535.04 186.45,538.06 191.81,540.09 197.17,543.85 202.53,548.01 207.89,550.16 213.25,551.65 218.61,552.47 223.96,552.46 229.32,553.99 234.68,554.63 240.04,553.99 245.4,553.49 250.76,553.34 256.12,554.53 261.48,554.62 266.84,554.44 272.19,554.37 277.55,557.84 282.91,559.76 288.27,559.14 293.63,558.3 298.99,557.34 304.35,555.44 309.71,552.5 315.07,549.04 320.42,546.73 325.78,544.28 331.14,542.71 336.5,540.08 341.86,536.28 347.22,534.09 352.58,531.98 357.94,533.45 363.3,538.41 368.65,542.87 374.01,546.07 379.37,550.13 384.73,553.8 390.09,558.37 395.45,563.25 400.81,566.83 406.17,569.67 411.53,570.93 416.89,569.29 422.24,569.28 427.6,567.96 432.96,564.85 438.32,564.47 443.68,565.08 449.04,565.38 454.4,565.24 459.76,565.31 465.12,565.32 470.47,565.26 475.83,564.99 481.19,564.92 486.55,564.3 491.91,563.39 497.27,561.6 502.63,558.46 507.99,555.23 513.35,552.11 518.7,548.93 524.06,548.26 529.42,548.2 534.78,547.24 540.14,547.72 545.5,550.35 550.86,557.82 556.22,565.83 561.58,575.52 566.93,587.81 572.29,598.91 577.65,608.46 583.01,616.54 588.37,621.75 593.73,623.25 599.09,624.85 604.45,625.4 609.81,626.09 615.16,626.59 620.52,625.82 625.88,625.53 631.24,626.89 636.6,631.17 641.96,635.16 647.32,637.85 652.68,639.75 658.04,640.51 663.39,640.01 668.75,638.34 674.11,631.81 679.47,622.39 684.83,610.84 690.19,597.21 695.55,583.59 700.91,573.26 706.27,560.72 711.62,550.2 716.98,534.3 722.34,533.53 727.7,528.96 733.06,523.69 738.42,522.47 743.78,522.37 749.14,522.38 754.5,522.24 759.85,522.41 765.21,522.43 770.57,522.56 775.93,522.22 781.29,523.65 786.65,528.15 792.01,531.41 797.37,532.79 802.73,537.8 808.08,537.23 813.44,535 818.8,530.85 824.16,527.35 829.52,520.24 834.88,515.47 840.24,513.56 845.6,507.9 850.96,505.37 856.31,502.14 861.67,498.01 867.03,496.47 872.39,493.45 877.75,490.79 883.11,489.25 888.47,489.45 893.83,491.25 899.19,491.78 904.55,491.9 909.9,491.27 915.26,490.8 920.62,489.77 925.98,488.96 931.34,489.11 936.7,486.71 942.06,480.44 947.42,471.41 952.78,470.16 958.13,469.63 963.49,468.48 968.85,472.09 974.21,473.42 979.57,473.41 984.93,475.29 990.29,476.17 995.65,477.87 1001.01,476.8 1006.36,476.93 1011.72,475.55 1017.08,474.16 1022.44,474.16 1027.8,475.02 1033.16,474.79 1038.52,474.98 1043.88,474.87 1049.24,474.4 1054.59,474.22 1059.95,474.36 1065.31,473.88 1070.67,479.01 1076.03,481.45 1081.39,483.1 1086.75,483.87 1092.11,483.95 1097.47,483.99 1102.82,483.17 1108.18,483.05 1113.54,482.5 1118.9,482.51 1124.26,482.49 1129.62,482.38 1134.98,481.49 1140.34,486.51 1145.7,494.63 1151.05,502 1156.41,509.15 1161.77,515.12 1167.13,520.11 1172.49,522.38 1177.85,517.66 1183.21,512.38 1188.57,506.45 1193.93,500.07 1199.28,493.37 1204.64,486.45 1210,479.79 1215.36,470.53 1220.72,461.08 1226.08,449.33 1231.44,435.33 1236.8,419.3 1242.16,404.42 1247.51,398.04 1252.87,399.68 1258.23,402.87 1263.59,403.88 1268.95,408.66 1274.31,413.03 1279.67,416.52 1285.03,413.79 1290.39,414.2 1295.74,409.04 1301.1,403.9 1306.46,397.03 1311.82,386.34 1317.18,378.78 1322.54,369.09 1327.9,350" fill="none" stroke="#3D63FA" stroke-width="1.3" stroke-linejoin="round"/>
<polyline points="10,472.4 24.4,472.9 35.8,472.4 47.2,474.5 65.1,477 81.4,481 97.7,488.4 105,491.5 111.43,494.73 116.79,497.26 122.15,500.54 127.5,502.29 132.86,504.12 138.22,506.34 143.58,508 148.94,509.5 154.3,509.41 159.66,510.23 165.02,511 170.38,512.52 175.73,513.41 181.09,514.37 186.45,515.31 191.81,516.01 197.17,517.69 202.53,519.67 207.89,522.17 213.25,523.13 218.61,524.62 223.96,525.99 229.32,526.85 234.68,528.88 240.04,530.14 245.4,531.33 250.76,531.66 256.12,531.02 261.48,531 266.84,531.07 272.19,531.11 277.55,529.49 282.91,527.89 288.27,525.96 293.63,524.5 298.99,523.44 304.35,521.55 309.71,519.2 315.07,517.89 320.42,516.44 325.78,514.85 331.14,514.25 336.5,513.56 341.86,512.72 347.22,512.09 352.58,511.6 357.94,511.93 363.3,513.53 368.65,515.31 374.01,516.69 379.37,518.16 384.73,520.99 390.09,524.04 395.45,526.97 400.81,529.47 406.17,531.6 411.53,534.06 416.89,536.08 422.24,537.02 427.6,538.72 432.96,540.36 438.32,540.54 443.68,540.21 449.04,540 454.4,540.07 459.76,540.02 465.12,539.97 470.47,539.92 475.83,539.61 481.19,539.53 486.55,538.99 491.91,538.56 497.27,538 502.63,537.12 507.99,535.96 513.35,534.53 518.7,533.31 524.06,532.85 529.42,532.81 534.78,532.35 540.14,532.54 545.5,533.87 550.86,536.36 556.22,539.04 561.58,542.39 566.93,546.39 572.29,550.17 577.65,553.64 583.01,557.31 588.37,560.44 593.73,562.63 599.09,564.56 604.45,565.7 609.81,567.24 615.16,566.89 620.52,567.45 625.88,567.63 631.24,566.95 636.6,564.92 641.96,562.93 647.32,560.84 652.68,558.29 658.04,554.48 663.39,550.11 668.75,544.36 674.11,538.31 679.47,532.45 684.83,526.56 690.19,520.5 695.55,514.67 700.91,510.48 706.27,506.73 711.62,504.05 716.98,500.81 722.34,500.61 727.7,499.59 733.06,498.22 738.42,497.86 743.78,497.62 749.14,497.69 754.5,497.52 759.85,496.54 765.21,496.19 770.57,495.91 775.93,496.06 781.29,495.34 786.65,493.21 792.01,490.96 797.37,489.27 802.73,486.41 808.08,484.61 813.44,482.52 818.8,479.79 824.16,477.21 829.52,474.81 834.88,473.54 840.24,473 845.6,470.48 850.96,468.49 856.31,467.06 861.67,465.23 867.03,463.74 872.39,462.26 877.75,460.34 883.11,458.51 888.47,456.57 893.83,455.27 899.19,454.54 904.55,453.48 909.9,453.94 915.26,453.5 920.62,452.68 925.98,451.91 931.34,452 936.7,451.07 942.06,449.56 947.42,447.74 952.78,446.98 958.13,446.31 963.49,446 968.85,446.82 974.21,447.4 979.57,447.39 984.93,448.34 990.29,449.22 995.65,451.21 1001.01,453.23 1006.36,454.94 1011.72,456 1017.08,456.8 1022.44,456.8 1027.8,456.37 1033.16,456.63 1038.52,456.74 1043.88,456.53 1049.24,456.16 1054.59,455.96 1059.95,456.87 1065.31,458.18 1070.67,459.48 1076.03,459.98 1081.39,460.66 1086.75,461.25 1092.11,461.31 1097.47,461.39 1102.82,460.79 1108.18,460.69 1113.54,460.03 1118.9,460.13 1124.26,460.34 1129.62,460.51 1134.98,460.88 1140.34,459.33 1145.7,456.09 1151.05,452.76 1156.41,448.67 1161.77,444.16 1167.13,438.51 1172.49,432.61 1177.85,426.61 1183.21,420 1188.57,414.34 1193.93,409.23 1199.28,404.07 1204.64,399.35 1210,393.66 1215.36,388.01 1220.72,383.32 1226.08,378.25 1231.44,372.94 1236.8,367.1 1242.16,360.28 1247.51,354.11 1252.87,348.05 1258.23,341.82 1263.59,336.62 1268.95,330.44 1274.31,324.64 1279.67,318.46 1285.03,312.07 1290.39,304.88 1295.74,298.29 1301.1,290 1306.46,282 1311.82,274.65 1317.18,267.67 1322.54,259.98 1327.9,252" fill="none" stroke="#F7285E" stroke-width="1.3" stroke-linejoin="round"/>
<line x1="953" y1="433.2" x2="1327" y2="433.2" stroke="#1E5A1E" stroke-width="2" stroke-dasharray="9.4 11.8"/>
<line x1="10" y1="99.7" x2="1327" y2="99.7" stroke="#444" stroke-width="1.4" stroke-dasharray="1 2"/>
<line x1="1097" y1="322.3" x2="1139.8" y2="414.2" stroke="#222" stroke-width="1.2"/>
<polyline points="1133.3,412.8 1139.8,414.4 1142.2,408.7" fill="none" stroke="#222" stroke-width="1.2"/>
</g>
<rect x="1326" y="27" width="2" height="799" fill="#8f8f8f"/>
<line x1="10" y1="799.5" x2="1390" y2="799.5" stroke="#555" stroke-width="1"/>
</svg>
<div class="lg" style="top:33.9px">Gold Spot / U.S. Dollar, 1D, OANDA&nbsp; O<span class="g">2,516.550</span>&nbsp; H<span class="g">2,529.090</span>&nbsp; L<span class="g">2,515.020</span>&nbsp; C<span class="g">2,522.590</span>&nbsp; <span class="g">+5.855 (+0.23%)</span></div>
<div class="lg" style="top:50.9px">BB (20, SMA, close, 2)&nbsp; <span class="r">2,505.631</span>&nbsp; <span class="b">2,536.256</span>&nbsp; <span class="b">2,475.006</span></div>
<div class="usd">USD</div>
<div style="position:absolute;left:1328px;top:27px;width:62px;height:772px;overflow:hidden"><div class="pl" style="top:37.5px">2,560.000</div>
<div class="pl" style="top:95.47px">2,480.000</div>
<div class="pl" style="top:124.45px">2,440.000</div>
<div class="pl" style="top:153.44px">2,400.000</div>
<div class="pl" style="top:182.42px">2,360.000</div>
<div class="pl" style="top:240.39px">2,280.000</div>
<div class="pl" style="top:269.37px">2,240.000</div>
<div class="pl" style="top:298.36px">2,200.000</div>
<div class="pl" style="top:327.34px">2,160.000</div>
<div class="pl" style="top:356.32px">2,120.000</div>
<div class="pl" style="top:385.31px">2,080.000</div>
<div class="pl" style="top:414.29px">2,040.000</div>
<div class="pl" style="top:443.28px">2,000.000</div>
<div class="pl" style="top:472.26px">1,960.000</div>
<div class="pl" style="top:501.24px">1,920.000</div>
<div class="pl" style="top:530.23px">1,880.000</div>
<div class="pl" style="top:559.21px">1,840.000</div>
<div class="pl" style="top:588.2px">1,800.000</div>
<div class="pl" style="top:617.18px">1,760.000</div>
<div class="pl" style="top:646.16px">1,720.000</div>
<div class="pl" style="top:675.15px">1,680.000</div>
<div class="pl" style="top:704.13px">1,640.000</div>
<div class="pl" style="top:733.12px">1,600.000</div>
<div class="pl" style="top:762.1px">1,560.000</div></div>
<div class="tag" style="top:92px;height:28.5px;background:#000;line-height:13px;padding-top:1.5px">2,522.590<br><span style="font-weight:normal;color:#e8e8e8;-webkit-text-stroke:0.3px #e8e8e8">13:05:28</span></div>
<div class="tag" style="top:233.3px;height:16.3px;width:60px;background:#fff;color:#131722;border:1px solid #131722;border-top:2px solid #444;line-height:13px;font-weight:normal;padding-left:7.5px;border-radius:0 3px 3px 0">2,327.240</div>
<div class="tag" style="top:426px;height:16px;background:#1E5E20;line-height:16px">2,062.310</div>
<div class="tl" style="left:70px">Jun</div>
<div class="tl" style="left:188px">Jul</div>
<div class="tl" style="left:301px">Aug</div>
<div class="tl" style="left:423px">Sep</div>
<div class="tl" style="left:536px">Oct</div>
<div class="tl" style="left:654px">Nov</div>
<div class="tl" style="left:772px">Dec</div>
<div class="tl b" style="left:880px">2024</div>
<div class="tl" style="left:997px">Feb</div>
<div class="tl" style="left:1110px">Mar</div>
<div class="tl" style="left:1217px">Apr</div>
<div class="ann" style="left:126px;top:117px;font-size:22px;letter-spacing:-0.5px;-webkit-text-stroke:0.65px currentColor;color:#0b0b0b">Daily</div>
<div class="ann" style="left:125px;top:148px;font-size:22px;letter-spacing:-0.55px;-webkit-text-stroke:0.65px currentColor;color:#2D5EFF">Gold (XAU/USD)</div>
<div class="ann" style="left:682px;top:293px;font-size:17.5px;letter-spacing:0.245px;color:#0E2A55">*bullish breakout &amp; price actions shaped "higher highs"</div>
<div class="ann" style="left:885px;top:507.6px;font-size:17.5px;letter-spacing:0.16px;color:#111">*Bollinger Bands squeeze</div>
<svg style="position:absolute;left:0;top:0" width="40" height="860" viewBox="0 0 40 860"><path d="M10 838H16.8V847H13.4V841.4H10Z" fill="#131722"/><circle cx="20.2" cy="839.7" r="1.75" fill="#131722"/><path d="M24.3 838H28.4L25.1 847H20.9Z" fill="#131722"/></svg>
<div class="logo">TradingView</div>
</body></html>
